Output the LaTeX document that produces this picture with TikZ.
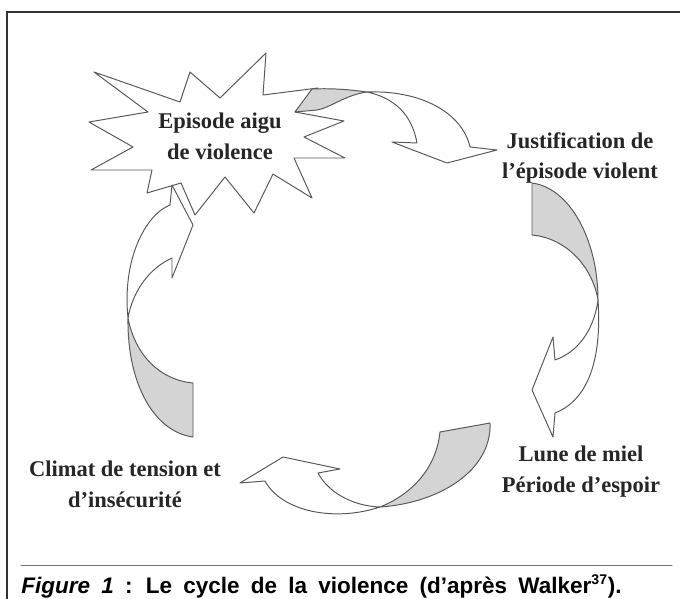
\documentclass[tikz,border=0pt]{standalone}
\usepackage{fontspec}
\setmainfont{Liberation Serif}
\setsansfont{Liberation Sans}
\usetikzlibrary{positioning}
\newcommand\widespace{\spaceskip=.5em\relax}

\begin{document}
\begin{tikzpicture}[
  x=0.025cm,y=-0.025cm,
  label/.style={font=\rmfamily\bfseries\fontsize{16}{22}\selectfont,
                align=center,inner sep=0pt,text=black!85},
  band/.style={draw=black!65,line width=.7pt,line join=round},
  back/.style={band,fill=black!17},
  frame/.style={draw=black!80,line width=1.4pt},
  every path/.style={line cap=round}
]
\useasboundingbox (0,0) rectangle (680,599);
\draw[frame] (680,12) -- (7,12) -- (7,599);

% the burst
\draw[band] (94,72) -- (180,102) -- (190,72) -- (220,98) -- (266,53)
  -- (263,95) -- (318,88) -- (295,112) -- (344,121) -- (304,137)
  -- (345,158) -- (294,158) -- (312,198) -- (273,174) -- (254,213)
  -- (225,177) -- (195,215) -- (181,183) -- (147,193) -- (152,170)
  -- (91,170) -- (133,147) -- (89,122) -- (148,112) -- cycle;
\node[label] (episode) at (220,136) {Episode aigu\\de violence};

% top arrow
\path[back] (295,112) -- (312,89) .. controls (335,88) and (352,90) .. (367,92)
  .. controls (345,95) and (330,108) .. (317,110) -- cycle;
\draw[band] (367,92) .. controls (420,90) and (462,112) .. (470,147)
  -- (497,150) -- (447,163) -- (392,142) -- (417,143)
  .. controls (412,115) and (395,98) .. (367,92);
\node[label] (justif) at (580,158) {Justification de\\l'épisode violent};

% right arrow
\path[back] (532,183) .. controls (570,188) and (598,240) .. (598,300)
  .. controls (592,265) and (565,238) .. (532,235) -- cycle;
\draw[band] (598,300) .. controls (602,360) and (588,400) .. (555,413)
  -- (553,437) -- (532,390) -- (553,337) -- (555,360)
  .. controls (578,352) and (594,330) .. (598,300);
\node[label] (lune) at (581,472) {Lune de miel\\Période d'espoir};

% bottom arrow
\path[back] (490,423) .. controls (492,470) and (440,503) .. (380,507)
  .. controls (410,495) and (436,470) .. (440,432) -- cycle;
\draw[band] (380,507) .. controls (335,522) and (282,512) .. (265,481)
  -- (240,483) -- (283,457) -- (340,469) -- (318,473)
  .. controls (328,492) and (352,506) .. (380,507);
\node[label] (climat) at (125,484) {Climat de tension et\\d'insécurité};

% left arrow
\path[back] (193,437) .. controls (155,432) and (127,385) .. (128,318)
  .. controls (135,355) and (160,380) .. (193,383) -- cycle;
\draw[band] (128,318) .. controls (122,260) and (145,215) .. (170,205)
  -- (172,185) -- (193,225) -- (172,278) -- (172,258)
  .. controls (150,268) and (133,290) .. (128,318);

\draw[black!55,line width=.7pt] (21,565) -- (672,565);
\node[anchor=base west,inner sep=0pt,
      font=\sffamily\bfseries\fontsize{16}{18}\selectfont] (caption) at (21,593)
  {\widespace\textit{Figure 1} : Le cycle de la violence (d'après Walker\textsuperscript{\fontsize{10}{10}\selectfont 37}).};
\end{tikzpicture}
\end{document}
